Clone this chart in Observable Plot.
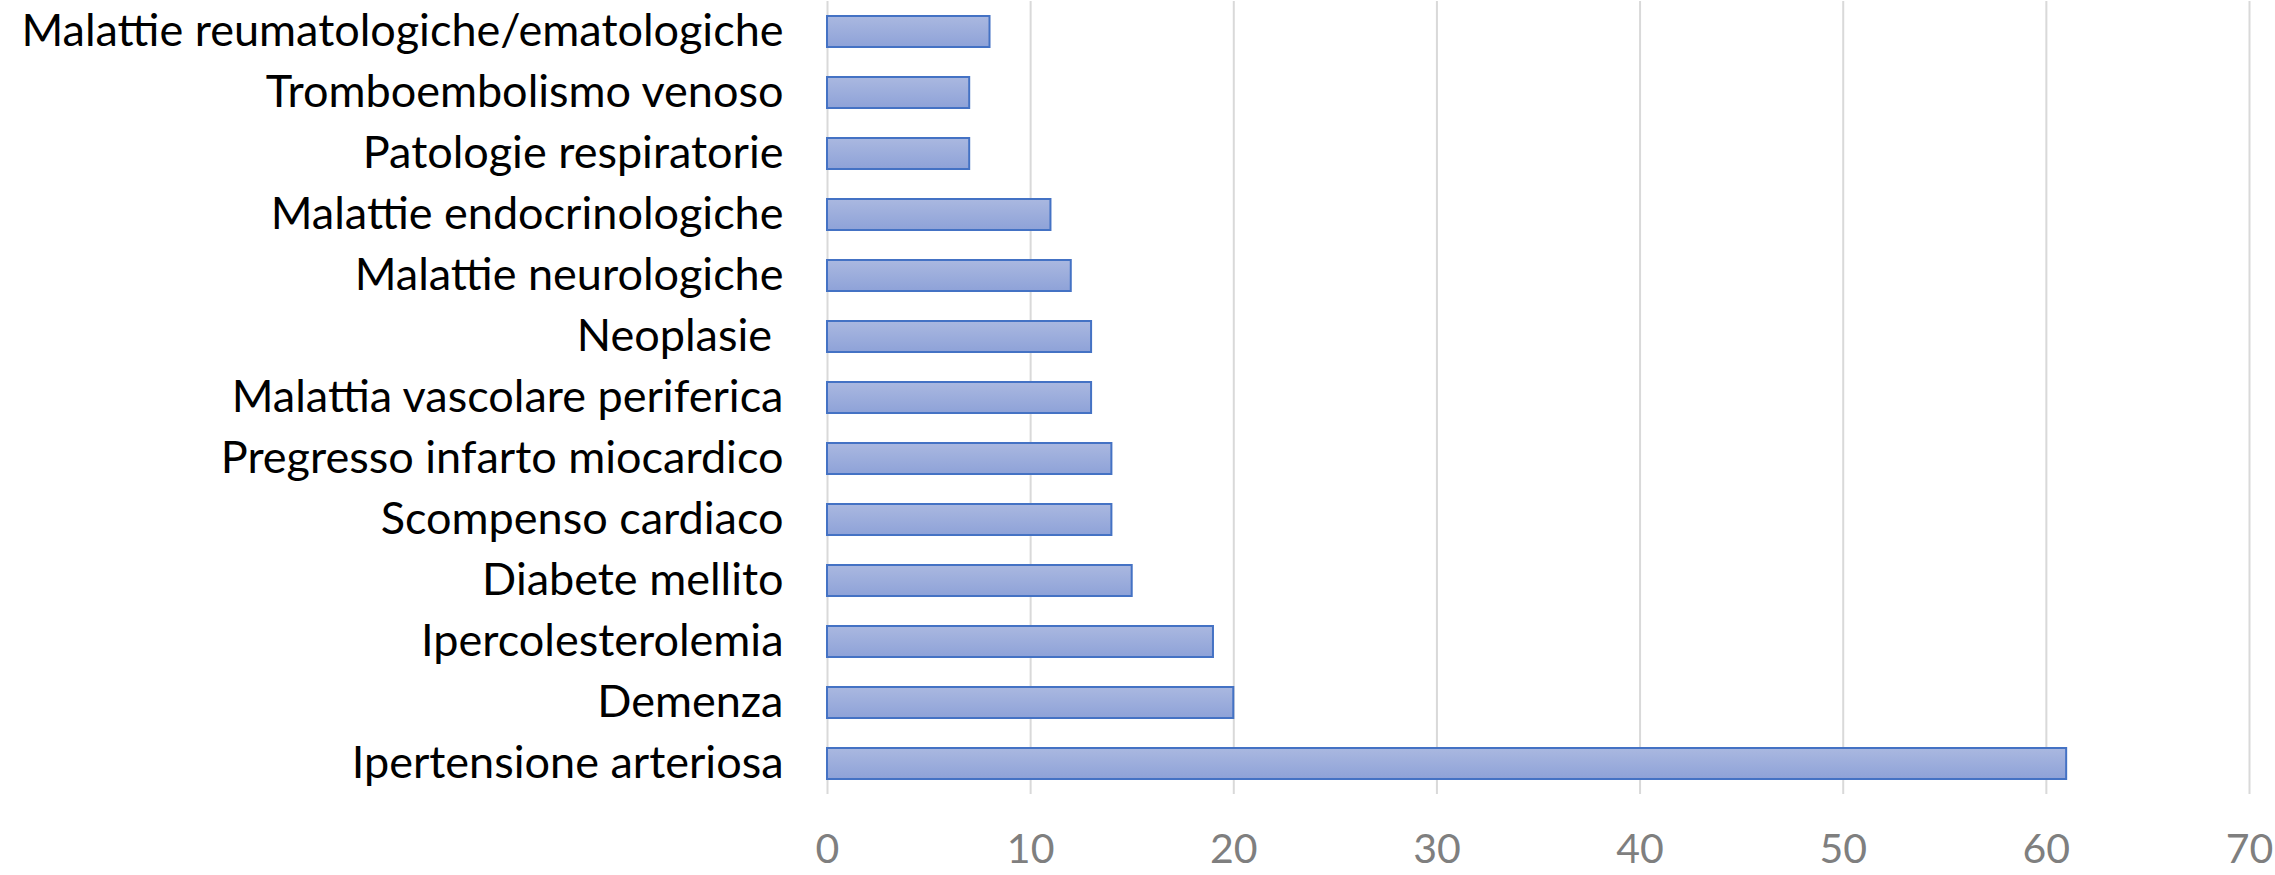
<!DOCTYPE html>
<html><head><meta charset="utf-8">
<script src="https://cdn.jsdelivr.net/npm/d3@7"></script>
<script src="https://cdn.jsdelivr.net/npm/@observablehq/plot@0.6"></script>
<style>
html,body{margin:0;padding:0;background:#fff;overflow:hidden;}
svg{display:block;}
svg text{white-space:pre;}
</style>
</head><body>
<div id="chart"></div>
<script>
const categories = [
  "Malattie reumatologiche/ematologiche",
  "Tromboembolismo venoso",
  "Patologie respiratorie",
  "Malattie endocrinologiche",
  "Malattie neurologiche",
  "Neoplasie ",
  "Malattia vascolare periferica",
  "Pregresso infarto miocardico",
  "Scompenso cardiaco",
  "Diabete mellito",
  "Ipercolesterolemia",
  "Demenza",
  "Ipertensione arteriosa"
];
const values = [8, 7, 7, 11, 12, 13, 13, 14, 14, 15, 19, 20, 61];
const xTicks = [0, 10, 20, 30, 40, 50, 60, 70];

const data = categories.map((c, i) => ({category: c, value: values[i]}));

const plot = Plot.plot({
  width: 2275,
  height: 875,
  marginLeft: 827,
  marginRight: 26,
  marginTop: 1,
  marginBottom: 81,
  style: {fontFamily: "Lato, 'Open Sans', sans-serif", fontSize: "45px", background: "#fff"},
  x: {domain: [0, 70], ticks: xTicks, label: null},
  y: {domain: categories, paddingInner: 0.49, paddingOuter: 0.245, label: null},
  marks: [
    Plot.ruleX(xTicks, {stroke: "#d9d9d9", strokeWidth: 2, strokeOpacity: 1}),
    Plot.barX(data, {x: "value", y: "category", fill: "url(#barGrad)", stroke: "#4472c4", strokeWidth: 2}),
    Plot.axisY({tickSize: 0, tickPadding: 44, fontSize: 45, color: "#000", label: null}),
    Plot.axisX({tickSize: 0, tickPadding: 39, fontSize: 41, color: "#7f7f7f", label: null, ticks: xTicks})
  ]
});

const svg = d3.select(plot);
const grad = svg.insert("defs", ":first-child").append("linearGradient")
  .attr("id", "barGrad").attr("x1", 0).attr("y1", 0).attr("x2", 0).attr("y2", 1);
grad.append("stop").attr("offset", "0%").attr("stop-color", "#aab8e0");
grad.append("stop").attr("offset", "100%").attr("stop-color", "#8ea2d8");

document.getElementById("chart").appendChild(plot);
</script>
</body></html>
